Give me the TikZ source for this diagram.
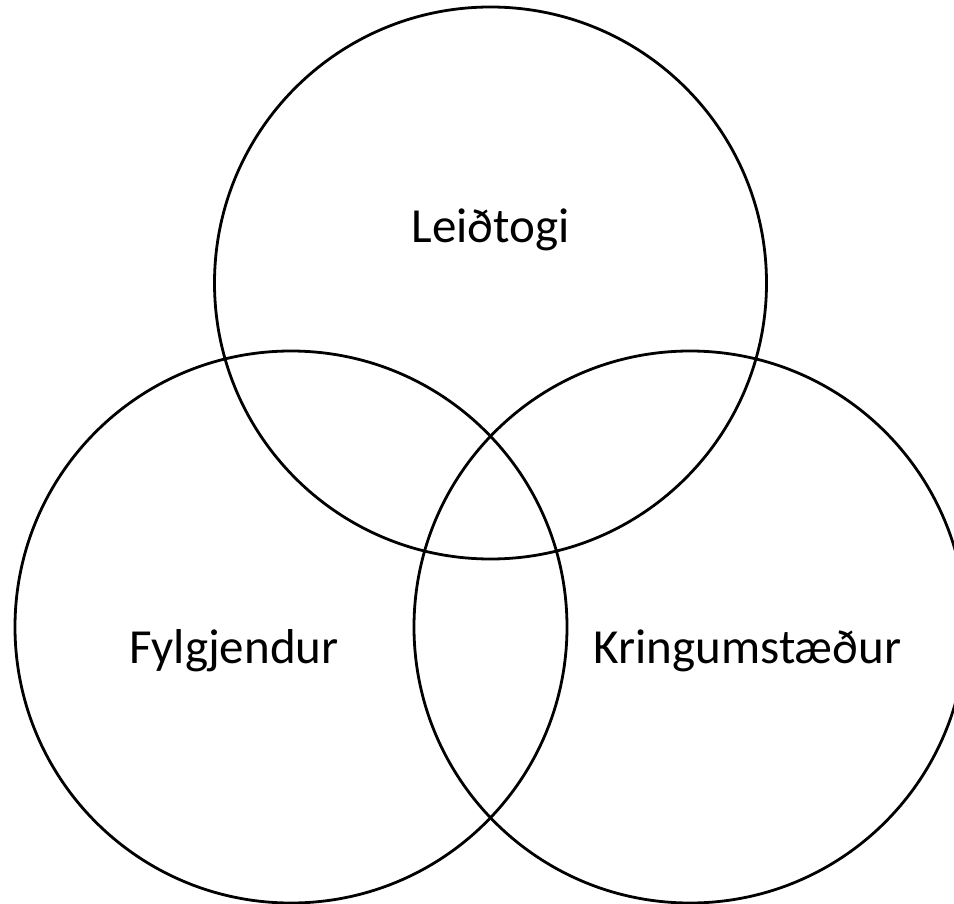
\documentclass[tikz,border=0pt]{standalone}
\usepackage{fontspec}
\setmainfont{Carlito}
\begin{document}
\begin{tikzpicture}[x=1pt,y=-1pt,
  ring/.style={circle,draw=black,line width=2.8pt,minimum size=552pt,inner sep=0pt},
  lbl/.style={font=\fontsize{49}{57}\selectfont,anchor=base,inner sep=0pt}]
\useasboundingbox (0,0) rectangle (954,904);
\clip (0,0) rectangle (954,904);
\node[ring] (top) at (490.5,283) {};
\node[ring] (left) at (291,627) {};
\node[ring] (right) at (690,627) {};
\node[lbl] (ltop) at (490.5,243) {Leiðtogi};
\node[lbl] (lleft) at (234,663) {Fylgjendur};
\node[lbl] (lright) at (747.5,663) {Kringumstæður};
\end{tikzpicture}
\end{document}
